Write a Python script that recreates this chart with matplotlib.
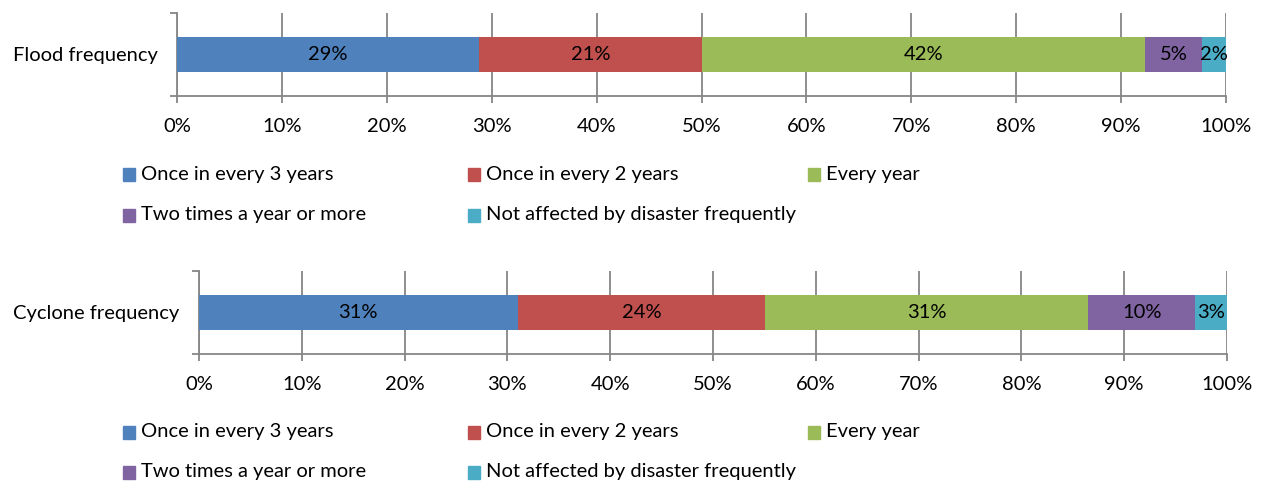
import matplotlib
matplotlib.use('Agg')
import matplotlib.pyplot as plt
from matplotlib.patches import Rectangle
import numpy as np

plt.rcParams['font.family'] = ['Lato', 'DejaVu Sans']

categories = ['Once in every 3 years', 'Once in every 2 years', 'Every year',
              'Two times a year or more', 'Not affected by disaster frequently']
colors = ['#4F81BD', '#C0504D', '#9BBB59', '#8064A2', '#4BACC6']

flood = [28.8, 21.2, 42.3, 5.4, 2.3]
cyclone = [31.0, 24.1, 31.4, 10.4, 3.1]

panels = [('Flood frequency', flood), ('Cyclone frequency', cyclone)]

W, H = 1263, 487
fig = plt.figure(figsize=(W / 100, H / 100), dpi=100)

# axes boxes and legend rows, in pixels from the top-left corner
ax_boxes = [(177, 13, 1226, 96), (199, 271, 1227, 354)]
legend_rows = [(174, 215), (432, 472)]
legend_cols = [123, 468, 808]

grey = '#868686'
fs = 14.5

for (name, vals), (x0, y0, x1, y1), rows in zip(panels, ax_boxes, legend_rows):
    ax = fig.add_axes([x0 / W, 1 - y1 / H, (x1 - x0) / W, (y1 - y0) / H])
    left = 0
    for v, c in zip(vals, colors):
        ax.barh(0, v, left=left, height=0.41, color=c, zorder=3)
        ax.text(left + v / 2, 0, '%d%%' % round(v), ha='center', va='center',
                fontsize=fs, color='black', zorder=4)
        left += v
    ax.set_xlim(0, 100)
    ax.set_ylim(-0.5, 0.5)
    ax.set_xticks(np.arange(0, 101, 10))
    ax.set_xticklabels(['%d%%' % t for t in range(0, 101, 10)], fontsize=fs)
    ax.xaxis.grid(True, color=grey, linewidth=1.3, zorder=0)
    ax.tick_params(axis='x', length=5, width=1.3, color=grey, pad=11)
    ax.set_yticks([0])
    ax.set_yticklabels([name], fontsize=fs)
    ax.set_yticks([-0.5, 0.5], minor=True)
    ax.tick_params(axis='y', which='major', length=0, pad=14)
    ax.tick_params(axis='y', which='minor', length=5, width=1.3, color=grey)
    for s in ['top', 'right']:
        ax.spines[s].set_visible(False)
    for s in ['left', 'bottom']:
        ax.spines[s].set_color(grey)
        ax.spines[s].set_linewidth(1.3)

    # legend: three fixed-width columns, two rows
    for i, (lab, c) in enumerate(zip(categories, colors)):
        lx = legend_cols[i % 3]
        ly = rows[i // 3]
        fig.patches.append(Rectangle((lx / W, 1 - (ly + 7) / H), 12 / W, 13 / H,
                                     transform=fig.transFigure, color=c))
        fig.text((lx + 18) / W, 1 - ly / H, lab, fontsize=fs, va='center', ha='left')

fig.savefig('out.png', dpi=100)
